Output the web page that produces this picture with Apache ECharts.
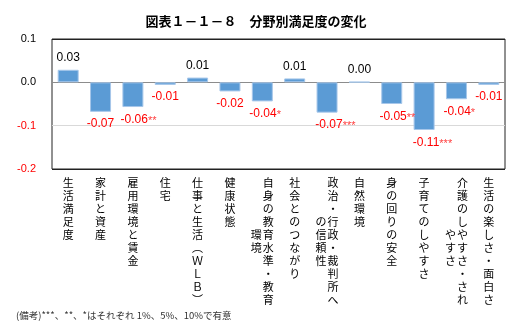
<!DOCTYPE html>
<html><head><meta charset="utf-8">
<script src="https://cdn.jsdelivr.net/npm/echarts@6/dist/echarts.min.js"></script>
<style>html,body{margin:0;padding:0;background:#fff}#c{width:512px;height:328px}</style>
</head><body><div id="c"></div>
<script>
// Category names, split into display columns (main column first, wrapped part second)
const categoryColumns = [
  ["生活満足度"],
  ["家計と資産"],
  ["雇用環境と賃金"],
  ["住宅"],
  ["仕事と生活（ＷＬＢ）"],
  ["健康状態"],
  ["自身の教育水準・教育", "環境"],
  ["社会とのつながり"],
  ["政治・行政・裁判所へ", "の信頼性"],
  ["自然環境"],
  ["身の回りの安全"],
  ["子育てのしやすさ"],
  ["介護のしやすさ・され", "やすさ"],
  ["生活の楽しさ・面白さ"]
];
const values = [0.029, -0.068, -0.057, -0.006, 0.011, -0.021, -0.044, 0.009, -0.070, 0.001, -0.050, -0.110, -0.039, -0.006];
const significance = ["", "", "**", "", "", "", "*", "", "***", "", "**", "***", "*", ""];
const yTicks = { min: -0.2, max: 0.1, interval: 0.1 };
const titleText = "図表１－１－８　分野別満足度の変化";
const noteText = "(備考)***、**、*はそれぞれ 1%、5%、10%で有意";

const categories = categoryColumns.map(c => c.join(""));
const vmap = { "（": "︵", "）": "︶" };
function verticalLabel(cols) {
  const main = Array.from(cols[0]).map(ch => vmap[ch] || ch);
  if (cols.length === 1) return main.join("\n");
  const sub = Array.from(cols[1]).map(ch => vmap[ch] || ch);
  const off = Math.round((main.length - sub.length) / 2);
  return main.map((ch, i) => {
    const s = (i - off >= 0 && i - off < sub.length) ? sub[i - off] : "　";
    return "{s|" + s + "}{g| }{m|" + ch + "}";
  }).join("\n");
}

const font = "'Liberation Sans', 'Noto Sans CJK JP', sans-serif";
const chart = echarts.init(document.getElementById('c'), null, { renderer: 'canvas' });
chart.setOption({
  animation: false,
  textStyle: { fontFamily: font },
  title: [
    { text: titleText, left: 'center', top: 10, textStyle: { fontSize: 13, fontWeight: 'bold', color: '#000', fontFamily: "'Noto Sans CJK JP', sans-serif" } },
    { text: noteText, left: 11, top: 306, textStyle: { fontSize: 9.5, fontWeight: 'normal', color: '#333', fontFamily: "'Noto Sans CJK JP', sans-serif" } }
  ],
  grid: { left: 52, right: 7, top: 39, bottom: 159, show: true, borderColor: '#222', borderWidth: 1, containLabel: false },
  xAxis: {
    type: 'category',
    data: categories,
    axisTick: { show: false },
    axisLine: { show: false },
    axisLabel: {
      interval: 0,
      margin: 7,
      fontSize: 11,
      lineHeight: 13,
      color: '#000',
      verticalAlign: 'top',
      fontFamily: "'Noto Sans CJK JP', sans-serif",
      formatter: (v, i) => verticalLabel(categoryColumns[i]),
      rich: {
        s: { fontSize: 11, lineHeight: 13, fontFamily: "'Noto Sans CJK JP', sans-serif", color: '#000' },
        m: { fontSize: 11, lineHeight: 13, fontFamily: "'Noto Sans CJK JP', sans-serif", color: '#000' },
        g: { fontSize: 4, lineHeight: 13 }
      }
    }
  },
  yAxis: {
    type: 'value',
    min: yTicks.min, max: yTicks.max, interval: yTicks.interval,
    axisLine: { show: false },
    axisTick: { show: false },
    axisLabel: {
      margin: 16,
      fontSize: 11,
      formatter: v => v.toFixed(1),
      color: v => (v < -1e-9 ? '#ff0000' : '#000')
    },
    splitLine: { lineStyle: { color: ['#222', '#d9d9d9', '#8c8c8c', '#222'], width: 1 } }
  },
  series: [{
    type: 'bar',
    barWidth: 21,
    data: values.map((v, i) => ({
      value: v,
      label: {
        position: v >= 0 ? 'top' : 'bottom',
        offset: [significance[i].length * 2.8, 0],
        rich: {
          n: { fontSize: 12, color: v >= 0 ? '#000' : '#ff0000', fontFamily: font },
          st: { fontSize: 11, color: '#ff4040', fontFamily: font, padding: [2, 0, 0, 0] }
        }
      }
    })),
    itemStyle: { color: '#5b9bd5', borderColor: '#a7c7ea', borderWidth: 1 },
    label: {
      show: true,
      distance: 6,
      formatter: p => '{n|' + p.value.toFixed(2) + '}' + (significance[p.dataIndex] ? '{st|' + significance[p.dataIndex] + '}' : '')
    }
  }]
});
</script></body></html>
